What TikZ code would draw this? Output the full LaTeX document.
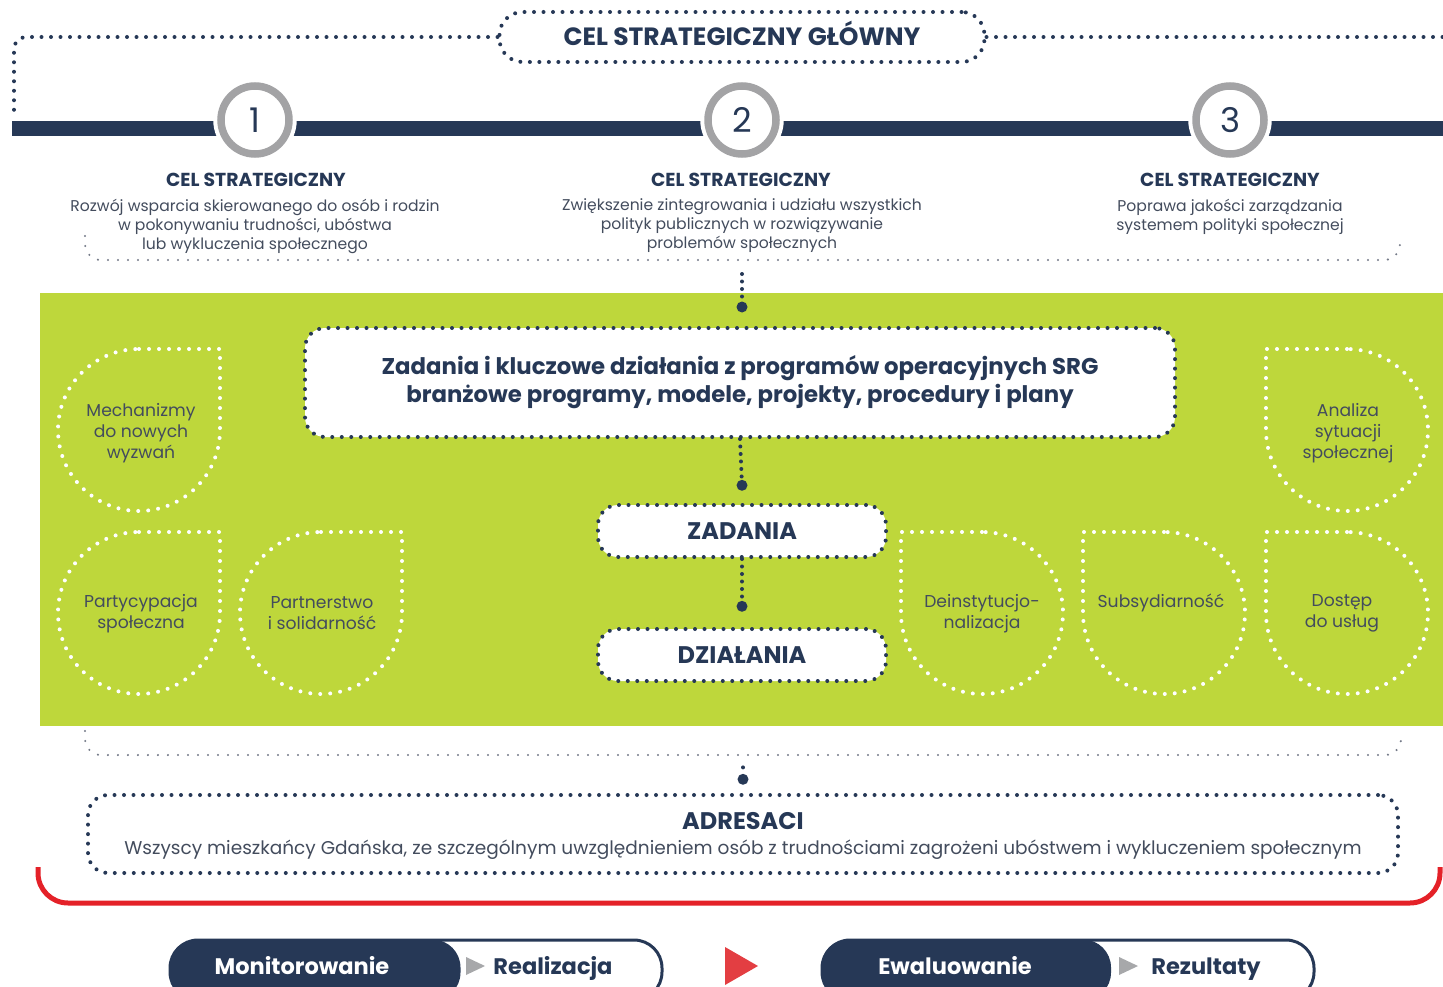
\documentclass[tikz,border=0pt]{standalone}
\usepackage{fontspec}
\setmainfont{Poppins}
\usepackage{xcolor}
\usepackage{tikz}
\usetikzlibrary{positioning}
\definecolor{colorNavy}{HTML}{263856}
\definecolor{colorText}{HTML}{434C5D}
\definecolor{colorLime}{HTML}{BED73B}
\definecolor{colorRing}{HTML}{A3A3A5}
\definecolor{colorRed}{HTML}{E42128}
\definecolor{colorArrow}{HTML}{E33E42}
\definecolor{colorTip}{HTML}{A7A8AA}
\definecolor{colorDots}{HTML}{747A88}

\tikzset{
  navydots/.style={draw=colorNavy, line width=4pt, line cap=round, dash pattern=on 0pt off 9.5pt},
  linkdots/.style={draw=colorNavy, line width=4pt, line cap=round, dash pattern=on 0pt off 7.5pt},
  whitedots/.style={draw=white, line width=4pt, line cap=round, dash pattern=on 0pt off 10pt},
  greydots/.style={draw=colorDots, line width=2.3pt, line cap=round, dash pattern=on 0pt off 10pt},
  bigdot/.style={circle, fill=colorNavy, inner sep=0pt, minimum size=11pt},
  ring/.style={circle, draw=colorRing, line width=7.5pt, fill=white, minimum size=68pt, inner sep=0pt,
    preaction={draw=white, line width=15.5pt}, text=colorNavy, font=\fontsize{34}{34}\selectfont},
  goalhead/.style={text=colorNavy, font=\bfseries\fontsize{18.8}{18.8}\selectfont},
  goaltext/.style={text=colorText, align=center, font=\fontsize{15.6}{19}\selectfont},
  droptext/.style={text=colorText, align=center, font=\fontsize{17.2}{21}\selectfont},
  dotbox/.style={navydots, fill=white, rounded corners=20pt, inner sep=0pt, text=colorNavy,
    align=center, font=\bfseries\fontsize{22.8}{28}\selectfont},
  capsbox/.style={dotbox, font=\bfseries\fontsize{24}{24}\selectfont, text height=17pt, text depth=0pt},
  pilltext/.style={anchor=base, font=\bfseries\fontsize{22.5}{22.5}\selectfont}
}

\begin{document}
\begin{tikzpicture}[x=1pt, y=-1pt]
        \clip (0,0) rectangle (1443,987);
        % main goal and the frame
        \fill[colorNavy] (12,121) rectangle (1443,136);
        \node[capsbox, rounded corners=23pt, minimum width=485pt, minimum height=50pt,
          font=\bfseries\fontsize{25}{25}\selectfont] (main) at (742,37) {CEL STRATEGICZNY GŁÓWNY};
        \coordinate (frameL) at (14,118);
        \coordinate (frameR) at (1443,37);
        \draw[navydots, rounded corners=12pt] (main.west) -| (frameL);
        \draw[navydots] (main.east) -- (frameR);
        \node[ring] (ring1) at (255,120) {1};
        \node[ring] (ring2) at (742,120) {2};
        \node[ring] (ring3) at (1230,120) {3};
        \node[goalhead] (head1) at (256,180) {CEL STRATEGICZNY};
        \node[goalhead] (head2) at (741,180) {CEL STRATEGICZNY};
        \node[goalhead] (head3) at (1230,180) {CEL STRATEGICZNY};
        \node[goaltext] (desc1) at (255,226) {Rozwój wsparcia skierowanego do osób i rodzin\\w pokonywaniu trudności, ubóstwa\\lub wykluczenia społecznego};
        \node[goaltext] (desc2) at (742,226) {Zwiększenie zintegrowania i udziału wszystkich\\polityk publicznych w rozwiązywanie\\problemów społecznych};
        \node[goaltext] (desc3) at (1230,216.5) {Poprawa jakości zarządzania\\systemem polityki społecznej};
        \draw[greydots, rounded corners=16pt] (85,236) |- (1400,260) -- (1400,241);

        % green field
        \fill[colorLime] (40,293) rectangle (1443,726);
        \coordinate (topLink) at (742,274);
        \node[bigdot] (dot0) at (742,307) {};
        \draw[linkdots] (topLink) -- (dot0);
        \node[dotbox, minimum width=870pt, minimum height=109pt] (ops) at (740,382.5)
          {Zadania i kluczowe działania z programów operacyjnych SRG\\branżowe programy, modele, projekty, procedury i plany};
        \node[capsbox, minimum width=288pt, minimum height=52pt] (zad) at (742,531) {ZADANIA};
        \node[capsbox, minimum width=288pt, minimum height=52pt] (dzi) at (742,655) {DZIAŁANIA};
        \node[bigdot, above=12pt of zad] (dot1) {};
        \node[bigdot, above=15pt of dzi] (dot2) {};
        \draw[linkdots] (ops.south) -- (dot1);
        \draw[linkdots] (zad.south) -- (dot2);

        % rules
        \draw[whitedots] (139,349) -- (220,349) -- (220,430) arc (0:270:81);
        \draw[whitedots] (139,532) -- (220,532) -- (220,613) arc (0:270:81);
        \draw[whitedots] (321,532) -- (402,532) -- (402,613) arc (0:270:81);
        \draw[whitedots] (1347,349) -- (1266,349) -- (1266,430) arc (180:-90:81);
        \draw[whitedots] (982,532) -- (901,532) -- (901,613) arc (180:-90:81);
        \draw[whitedots] (1164,532) -- (1083,532) -- (1083,613) arc (180:-90:81);
        \draw[whitedots] (1347,532) -- (1266,532) -- (1266,613) arc (180:-90:81);
        \node[droptext] (mech) at (141,433) {Mechanizmy\\do nowych\\wyzwań};
        \node[droptext] (party) at (141,613.5) {Partycypacja\\społeczna};
        \node[droptext] (partn) at (322,613.5) {Partnerstwo\\i solidarność};
        \node[droptext] (anal) at (1348,433) {Analiza\\sytuacji\\społecznej};
        \node[droptext] (deinst) at (982,613.5) {Deinstytucjo-\\nalizacja};
        \node[droptext] (subs) at (1161,603) {Subsydiarność};
        \node[droptext] (dost) at (1342,613.5) {Dostęp\\do usług};

        % addressees
        \draw[greydots, rounded corners=16pt] (85,731) |- (1401,755) -- (1401,737);
        \node[dotbox, minimum width=1310pt, minimum height=78pt] (adr) at (743,834) {};
        \node[text=colorNavy, anchor=base, font=\bfseries\fontsize{24}{24}\selectfont] (adrT) at (743,829) {ADRESACI};
        \node[text=colorText, anchor=base, font=\fontsize{18.5}{18.5}\selectfont] (adrD) at (743,854)
          {Wszyscy mieszkańcy Gdańska, ze szczególnym uwzględnieniem osób z trudnościami zagrożeni ubóstwem i wykluczeniem społecznym};
        \node[bigdot, above=8pt of adr] (dot3) {};
        \node[circle, fill=colorNavy, inner sep=0pt, minimum size=4pt, above=4pt of dot3] (dot4) {};
        \draw[colorRed, line width=5pt, rounded corners=30pt] (38,867) |- (1440,903) -- (1440,867);

        % process
        \node[draw=colorNavy, line width=3pt, fill=white, rounded corners=28pt, minimum width=492pt,
          minimum height=60pt] (real) at (416,970) {};
        \node[fill=colorNavy, rounded corners=28pt, minimum width=291pt, minimum height=61pt] (mon) at (315,970) {};
        \node[text=white, pilltext] (monT) at (302,974) {Monitorowanie};
        \node[text=colorNavy, pilltext] (realT) at (553,974) {Realizacja};
        \fill[colorTip] (466,957) -- (485,966) -- (466,975) -- cycle;
        \node[draw=colorNavy, line width=3pt, fill=white, rounded corners=28pt, minimum width=492pt,
          minimum height=60pt] (rez) at (1068,970) {};
        \node[fill=colorNavy, rounded corners=28pt, minimum width=290pt, minimum height=61pt] (ewal) at (966,970) {};
        \node[text=white, pilltext] (ewalT) at (955,974) {Ewaluowanie};
        \node[text=colorNavy, pilltext] (rezT) at (1206,974) {Rezultaty};
        \fill[colorTip] (1119,957) -- (1138,966) -- (1119,975) -- cycle;
        \fill[colorArrow] (725,947) -- (758,966) -- (725,985) -- cycle;
    \end{tikzpicture}
\end{document}
